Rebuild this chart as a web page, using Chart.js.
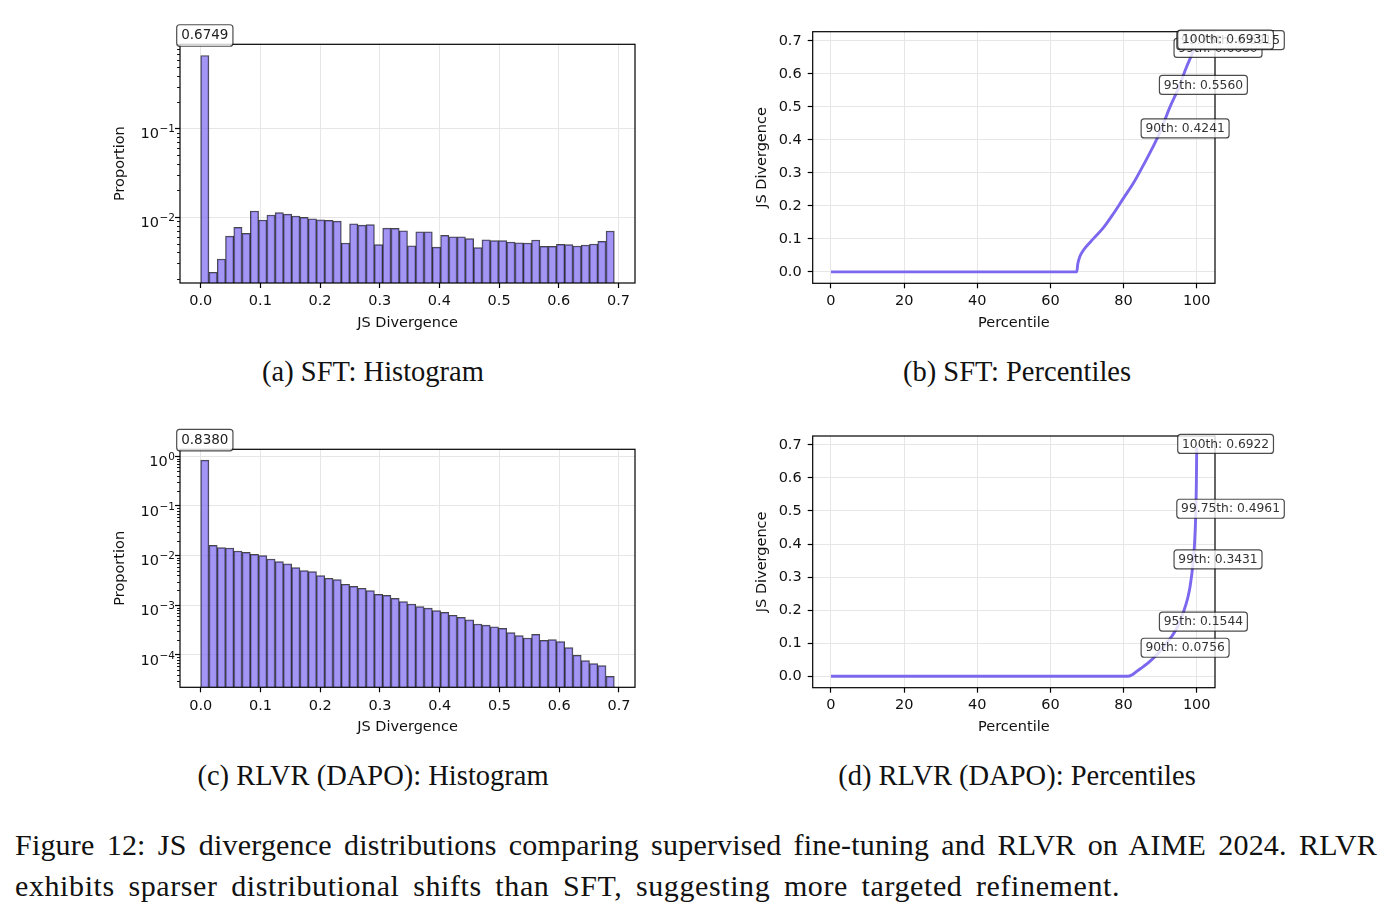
<!DOCTYPE html>
<html>
<head>
<meta charset="utf-8">
<script src="https://cdn.jsdelivr.net/npm/chart.js@4.4.1/dist/chart.umd.min.js"></script>
<style>
  body { margin: 0; background: #fff; }
  #fig { position: relative; width: 1392px; height: 919px; overflow: hidden; background: #fff; }
  .panel { position: absolute; width: 560px; height: 320px; }
  .sub { position: absolute; width: 600px; text-align: center; font-family: "Liberation Serif", serif;
         font-size: 28.5px; line-height: 32px; color: #111; white-space: nowrap; }
  .cap { position: absolute; left: 15px; width: 1362px; font-family: "Liberation Serif", serif;
         font-size: 30px; letter-spacing: 0.6px; word-spacing: 5.5px; line-height: 41px; color: #111; white-space: nowrap; }
  .cap.first { letter-spacing: 0.2px; word-spacing: 0; text-align: justify; text-align-last: justify; }
</style>
</head>
<body>
<div id="fig">
  <div class="panel" style="left:90px;top:20px"><canvas id="histSft" width="560" height="320"></canvas></div>
  <div class="panel" style="left:730px;top:20px"><canvas id="pctSft" width="560" height="320"></canvas></div>
  <div class="panel" style="left:90px;top:425px"><canvas id="histRlvr" width="560" height="320"></canvas></div>
  <div class="panel" style="left:730px;top:425px"><canvas id="pctRlvr" width="560" height="320"></canvas></div>

  <div class="sub" style="left:73px;top:356px">(a) SFT: Histogram</div>
  <div class="sub" style="left:717px;top:356px">(b) SFT: Percentiles</div>
  <div class="sub" style="left:73px;top:760px">(c) RLVR (DAPO): Histogram</div>
  <div class="sub" style="left:717px;top:760px">(d) RLVR (DAPO): Percentiles</div>

  <div class="cap first" style="top:824px">Figure 12: JS divergence distributions comparing supervised fine-tuning and RLVR on AIME 2024. RLVR</div>
  <div class="cap" style="top:865px">exhibits sparser distributional shifts than SFT, suggesting more targeted refinement.</div>
</div>

<script>
// histogram bins (proportion per bin, 50 equal bins from 0 to max JS)
const binCount = 50;
const sftMaxJS = 0.6931;
const rlvrMaxJS = 0.6922;
const sftHist = [0.6749, 0.00237, 0.00335, 0.00609, 0.00764, 0.00653, 0.0117, 0.00925, 0.01054, 0.0112,
  0.0108, 0.01027, 0.0099, 0.00957, 0.0093, 0.00917, 0.0090, 0.00508, 0.0084, 0.0081,
  0.0082, 0.00487, 0.0075, 0.00744, 0.0070, 0.00473, 0.00682, 0.00682, 0.00457, 0.0062,
  0.00598, 0.00598, 0.00569, 0.0045, 0.00553, 0.0054, 0.0054, 0.00521, 0.00512, 0.00508,
  0.0055, 0.00466, 0.00466, 0.00491, 0.00487, 0.0047, 0.00482, 0.00495, 0.0053, 0.00695];
const rlvrHist = [0.838, 0.01615, 0.01449, 0.01425, 0.0124, 0.01167, 0.01064, 0.0100, 0.00857, 0.00757,
  0.0068, 0.00573, 0.00499, 0.00476, 0.00396, 0.0035, 0.00329, 0.00265, 0.00241, 0.0022,
  0.00197, 0.00166, 0.00159, 0.00138, 0.00119, 0.00106, 0.00094, 0.00088, 0.00078, 0.00072,
  0.00063, 0.00057, 0.00051, 0.00042, 0.0004, 0.00037, 0.000344, 0.000282, 0.000245, 0.00022,
  0.00026, 0.000197, 0.000204, 0.000185, 0.000141, 0.0000985, 0.0000769, 0.000067, 0.000061, 0.0000372];

// percentile curves
const sftPctX = [0, 67.2, 67.5, 68, 68.7, 69.6, 71.7, 74.5, 77.2, 79.9, 82.7, 85.5, 88, 90, 92.7, 95, 97, 99, 99.75, 100];
const sftPctY = [0, 0, 0.025, 0.045, 0.060, 0.074, 0.100, 0.134, 0.176, 0.222, 0.269, 0.325, 0.378, 0.4241, 0.50, 0.556, 0.615, 0.668, 0.6915, 0.6931];
const rlvrPctX = [0, 81.3, 82.5, 83.6, 85.5, 87.2, 90, 92, 93.2, 95, 96.4, 97.5, 98.2, 99, 99.4, 99.75, 99.9, 100];
const rlvrPctY = [0, 0, 0.005, 0.015, 0.030, 0.045, 0.0756, 0.104, 0.121, 0.1544, 0.195, 0.235, 0.272, 0.3431, 0.40, 0.4961, 0.58, 0.6922];

// labelled percentiles
const sftMarkPct = [90, 95, 99, 99.75, 100];
const sftMarkVal = [0.4241, 0.5560, 0.6680, 0.6915, 0.6931];
const rlvrMarkPct = [90, 95, 99, 99.75, 100];
const rlvrMarkVal = [0.0756, 0.1544, 0.3431, 0.4961, 0.6922];

// ticks
const histXTicks = [0, 0.1, 0.2, 0.3, 0.4, 0.5, 0.6, 0.7];
const sftLogTicks = [1e-2, 1e-1];
const rlvrLogTicks = [1e-4, 1e-3, 1e-2, 1e-1, 1];
const pctXTicks = [0, 20, 40, 60, 80, 100];
const pctYTicks = [0, 0.1, 0.2, 0.3, 0.4, 0.5, 0.6, 0.7];

const FONT = "DejaVu Sans";
const gridColor = "#e6e6e6";

function drawBox(ctx, text, left, cy, size, padX, h, textColor) {
  ctx.save();
  ctx.font = size + "px '" + FONT + "'";
  const w = ctx.measureText(text).width + 2 * padX;
  ctx.beginPath();
  ctx.roundRect(left, cy - h / 2, w, h, 3);
  ctx.fillStyle = "rgba(255,255,255,0.8)";
  ctx.fill();
  ctx.lineWidth = 1.2;
  ctx.strokeStyle = "rgba(0,0,0,0.7)";
  ctx.stroke();
  ctx.fillStyle = textColor;
  ctx.textBaseline = "middle";
  ctx.textAlign = "left";
  ctx.fillText(text, left + padX, cy + 0.5);
  ctx.restore();
  return w;
}

const framePlugin = {
  id: "frame",
  afterDatasetsDraw(chart) {
    const { ctx, chartArea: a } = chart;
    ctx.save();
    ctx.strokeStyle = "#000";
    ctx.lineWidth = 1.2;
    ctx.strokeRect(a.left, a.top, a.right - a.left, a.bottom - a.top);
    ctx.restore();
  }
};

// log axis: minor tick marks and 10^n labels with a raised exponent
const logAxisPlugin = {
  id: "logAxis",
  afterDatasetsDraw(chart) {
    const { ctx, chartArea: a } = chart;
    const y = chart.scales.y;
    ctx.save();
    ctx.strokeStyle = "#000";
    ctx.lineWidth = 0.9;
    for (let e = Math.floor(Math.log10(y.min)); e <= Math.ceil(Math.log10(y.max)); e++) {
      for (let k = 2; k <= 9; k++) {
        const v = k * Math.pow(10, e);
        if (v < y.min || v > y.max) continue;
        const py = Math.round(y.getPixelForValue(v)) + 0.5;
        ctx.beginPath();
        ctx.moveTo(a.left - 3, py);
        ctx.lineTo(a.left, py);
        ctx.stroke();
      }
    }
    ctx.fillStyle = "#111";
    ctx.textBaseline = "alphabetic";
    ctx.textAlign = "right";
    y.ticks.forEach(t => {
      const py = y.getPixelForValue(t.value);
      const ex = String(Math.round(Math.log10(t.value))).replace("-", "\u2212");
      const right = a.left - 5;
      ctx.font = "10.5px '" + FONT + "'";
      const ew = ctx.measureText(ex).width;
      ctx.fillText(ex, right, py + 3.6);
      ctx.font = "14.5px '" + FONT + "'";
      ctx.fillText("10", right - ew - 0.5, py + 9.7);
    });
    ctx.restore();
  }
};

const peakLabelPlugin = {
  id: "peakLabel",
  afterDraw(chart) {
    const bar = chart.getDatasetMeta(0).data[0];
    const val = chart.data.datasets[0].data[0].y;
    const { ctx } = chart;
    ctx.save();
    ctx.font = "13.5px '" + FONT + "'";
    const w = ctx.measureText(val.toFixed(4)).width + 9;
    ctx.restore();
    drawBox(chart.ctx, val.toFixed(4), bar.x - w / 2, bar.y - 20, 13.5, 4.5, 21.5, "#222");
  }
};

function pctMarksPlugin(pcts, vals) {
  return {
    id: "pctMarks",
    afterDraw(chart) {
      const sx = chart.scales.x, sy = chart.scales.y;
      pcts.forEach((p, i) => {
        const px = sx.getPixelForValue(p);
        const py = sy.getPixelForValue(vals[i]);
        drawBox(chart.ctx, p + "th: " + vals[i].toFixed(4), px - 19, py - 3.5, 12.3, 4.3, 19, "#333");
      });
    }
  };
}

function axisBase(tickVals, fmt, padding, titleText, titlePad) {
  return {
    grid: { color: gridColor, lineWidth: 1, tickLength: 5, tickColor: "#000", tickWidth: 1.2, offset: false },
    border: { display: false },
    ticks: { font: { family: FONT, size: 14.5 }, color: "#111", padding: padding, maxRotation: 0, autoSkip: false, callback: fmt },
    title: { display: true, text: titleText, font: { family: FONT, size: 14.5 }, color: "#111", padding: titlePad },
    afterBuildTicks: s => { s.ticks = tickVals.map(v => ({ value: v })); }
  };
}

function histChart(id, values, maxJS, yMin, yMax, logTicks, padTop, xHeight, xTitlePad) {
  const centers = values.map((_, i) => (i + 0.5) * maxJS / binCount);
  const x = axisBase(histXTicks, v => v.toFixed(1), 5, "JS Divergence", { top: 0, bottom: xTitlePad });
  Object.assign(x, {
    type: "linear", offset: false, min: -0.05 * maxJS, max: 1.05 * maxJS,
    afterFit: s => { s.height = xHeight; s.paddingLeft = 0; s.paddingRight = 0; }
  });
  const y = axisBase(logTicks, () => "", 1.5, "Proportion", { top: 21.3, bottom: 0 });
  Object.assign(y, {
    type: "logarithmic", min: yMin, max: yMax,
    afterFit: s => { s.width = 90; s.paddingTop = 0; s.paddingBottom = 0; }
  });
  return new Chart(document.getElementById(id), {
    type: "bar",
    data: {
      datasets: [{
        data: values.map((v, i) => ({ x: centers[i], y: v })),
        backgroundColor: "rgba(123,104,238,0.7)",
        borderColor: "rgba(0,0,0,0.72)",
        borderWidth: 1,
        barPercentage: 1,
        categoryPercentage: 1,
        grouped: false
      }]
    },
    options: {
      responsive: false,
      animation: false,
      layout: { padding: { left: 0, right: 15, top: padTop, bottom: 0 } },
      plugins: { legend: { display: false }, tooltip: { enabled: false } },
      scales: { x: x, y: y }
    },
    plugins: [framePlugin, logAxisPlugin, peakLabelPlugin]
  });
}

function pctChart(id, px, py, maxJS, marksP, marksV, padTop, xHeight, xTitlePad) {
  const x = axisBase(pctXTicks, v => String(v), 4, "Percentile", { top: 0, bottom: xTitlePad });
  Object.assign(x, {
    type: "linear", min: -5, max: 105,
    afterFit: s => { s.height = xHeight; s.paddingLeft = 0; s.paddingRight = 0; }
  });
  const y = axisBase(pctYTicks, v => v.toFixed(1), 6, "JS Divergence", { top: 24, bottom: 0 });
  Object.assign(y, {
    type: "linear", min: -0.05 * maxJS, max: 1.05 * maxJS,
    afterFit: s => { s.width = 82.7; s.paddingTop = 0; s.paddingBottom = 0; }
  });
  return new Chart(document.getElementById(id), {
    type: "line",
    data: {
      datasets: [{
        data: px.map((v, i) => ({ x: v, y: py[i] })),
        borderColor: "#7B68EE",
        borderWidth: 2.9,
        pointRadius: 0,
        fill: false,
        cubicInterpolationMode: "monotone"
      }]
    },
    options: {
      responsive: false,
      animation: false,
      layout: { padding: { left: 0, right: 75, top: padTop, bottom: 0 } },
      plugins: { legend: { display: false }, tooltip: { enabled: false } },
      scales: { x: x, y: y }
    },
    plugins: [framePlugin, pctMarksPlugin(marksP, marksV)]
  });
}

histChart("histSft", sftHist, sftMaxJS, Math.pow(10, -2.747), Math.pow(10, -0.044), sftLogTicks, 24.3, 57, 8.3);
histChart("histRlvr", rlvrHist, rlvrMaxJS, Math.pow(10, -4.651), Math.pow(10, 0.141), rlvrLogTicks, 24.3, 57.7, 9.3);
pctChart("pctSft", sftPctX, sftPctY, sftMaxJS, sftMarkPct, sftMarkVal, 11.7, 56.7, 8);
pctChart("pctRlvr", rlvrPctX, rlvrPctY, rlvrMaxJS, rlvrMarkPct, rlvrMarkVal, 11, 57.3, 8.8);
</script>
</body>
</html>
